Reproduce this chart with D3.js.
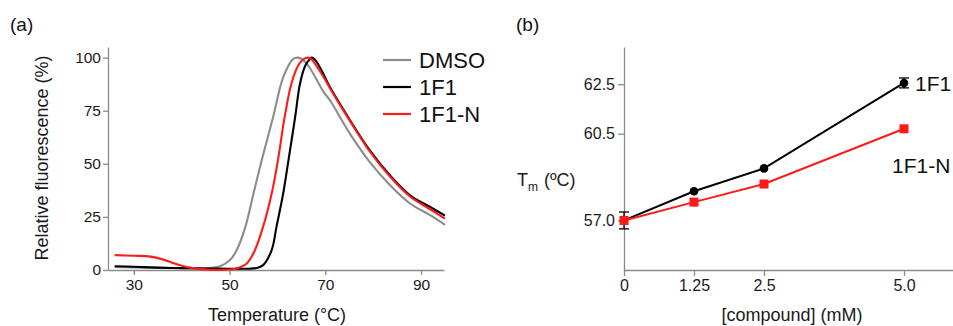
<!DOCTYPE html>
<html>
<head>
<meta charset="utf-8">
<script src="https://cdn.jsdelivr.net/npm/d3@7"></script>
<style>
  html, body { margin: 0; padding: 0; background: #fff; }
  svg { display: block; font-family: "Liberation Sans", Arial, Helvetica, sans-serif; }
  .axis path, .axis line { stroke: #8a8a8a; stroke-width: 1.3; }
  .axis text { fill: #1a1a1a; }
</style>
</head>
<body>
<svg id="chart" width="953" height="326"></svg>
<script>
// ----------------------------
// Panel (a): melting curves, [temperature °C, relative fluorescence %]
// ----------------------------
const dmsoCurve = [
  [26, 1.4], [30, 1.2], [35, 1.0], [40, 0.9], [44, 0.8], [46, 1.0], [48, 1.8],
  [50.1, 4.7], [51.5, 9.4], [53.3, 20.3], [55, 36], [56.7, 51.6], [59.1, 72],
  [61.2, 90.7], [63.3, 99.4], [64.3, 100], [65.4, 98.8], [66.8, 95], [69.6, 84],
  [71, 79.8], [75.2, 64], [79.3, 50.8], [83.5, 40], [87.7, 31.3], [91.9, 25.8], [95, 21.3]
];
const f1Curve = [
  [26, 1.8], [30, 1.5], [35, 1.1], [40, 0.9], [45, 0.7], [50, 0.6], [54, 0.6],
  [55.6, 0.9], [57, 2.3], [58.8, 9.4], [59.8, 20.3], [61.2, 36], [62.3, 51.6],
  [63.7, 72], [64.7, 87.6], [65.8, 96.2], [66.8, 99.4], [67.2, 100], [68, 98.6],
  [69.6, 92.3], [71, 86], [75.2, 70.4], [79.3, 56.3], [83.5, 44.6], [87.7, 35.2],
  [91.9, 29.7], [95, 25.6]
];
const f1nCurve = [
  [26, 7.0], [30, 6.7], [33.5, 6.3], [36, 5.0], [38, 3.4], [40, 2.0], [42, 1.0],
  [44, 0.4], [46, 0.1], [48, 0.0], [50, 0.2], [51.5, 0.8], [53.6, 3.1], [55.3, 9.4],
  [57, 20.3], [58.8, 36], [60.1, 51.6], [61.5, 72], [62.9, 87.6], [64.3, 96.2],
  [65.3, 99], [66.2, 100], [67, 99.4], [69.6, 91], [71, 85.5], [75.2, 70],
  [79.3, 55.8], [83.5, 44], [87.7, 34.6], [91.9, 28.6], [95, 24.2]
];
const seriesNames = ['DMSO', '1F1', '1F1-N'];
const seriesColors = ['#8c8c8c', '#000000', '#ff1a1a'];
const tempTicks = [30, 50, 70, 90];
const fluoTicks = [0, 25, 50, 75, 100];

// ----------------------------
// Panel (b): Tm vs compound concentration
// ----------------------------
const concentrations = [0, 1.25, 2.5, 5.0];
const concLabels = ['0', '1.25', '2.5', '5.0'];
const tm1F1 = [57.0, 58.18, 59.1, 62.55];
const tm1F1Err = [0.34, 0, 0, 0.2];
const tm1F1N = [57.0, 57.74, 58.47, 60.7];
const tmTicks = [57.0, 60.5, 62.5];

const svg = d3.select('#chart');

// ---- Panel (a)
const xA = d3.scaleLinear().domain([24.6, 94.8]).range([108, 444]);
const yA = d3.scaleLinear().domain([0, 105]).range([270, 47]);

svg.append('g')
  .attr('class', 'axis')
  .attr('transform', 'translate(0,270)')
  .call(d3.axisBottom(xA).tickValues(tempTicks).tickSize(5).tickSizeOuter(0).tickPadding(4))
  .call(g => g.selectAll('text').attr('font-size', 15.5));

svg.append('g')
  .attr('class', 'axis')
  .attr('transform', 'translate(108,0)')
  .call(d3.axisLeft(yA).tickValues(fluoTicks).tickSize(5).tickSizeOuter(0).tickPadding(2))
  .call(g => g.selectAll('text').attr('font-size', 15.5));

const lineA = d3.line()
  .x(d => xA(d[0]))
  .y(d => yA(d[1]))
  .curve(d3.curveCatmullRom.alpha(0.5));

[dmsoCurve, f1Curve, f1nCurve].forEach((data, i) => {
  svg.append('path')
    .datum(data)
    .attr('fill', 'none')
    .attr('stroke', seriesColors[i])
    .attr('stroke-width', 2.1)
    .attr('d', lineA);
});

// ---- Legend
seriesNames.forEach((name, i) => {
  const y = 60 + i * 27;
  svg.append('line')
    .attr('x1', 383).attr('x2', 411)
    .attr('y1', y).attr('y2', y)
    .attr('stroke', seriesColors[i])
    .attr('stroke-width', 2.2);
  svg.append('text')
    .attr('x', 419).attr('y', y + 8)
    .attr('font-size', 22)
    .attr('fill', '#111')
    .text(name);
});

svg.append('text')
  .attr('transform', 'translate(48,158) rotate(-90)')
  .attr('text-anchor', 'middle')
  .attr('font-size', 18)
  .attr('fill', '#1a1a1a')
  .text('Relative fluorescence (%)');

svg.append('text')
  .attr('x', 277).attr('y', 321)
  .attr('text-anchor', 'middle')
  .attr('font-size', 18)
  .attr('fill', '#1a1a1a')
  .text('Temperature (°C)');

svg.append('text')
  .attr('x', 10).attr('y', 31)
  .attr('font-size', 19)
  .attr('fill', '#111')
  .text('(a)');

// ---- Panel (b)
const xB = d3.scaleLinear().domain([0, 5.875]).range([624, 953]);
const yB = d3.scaleLinear().domain([55, 64]).range([270, 47]);

svg.append('g')
  .attr('class', 'axis')
  .attr('transform', 'translate(0,270)')
  .call(d3.axisBottom(xB).tickValues(concentrations)
    .tickFormat((d, i) => concLabels[i]).tickSize(6).tickSizeOuter(0).tickPadding(4))
  .call(g => g.selectAll('text').attr('font-size', 16));

svg.append('g')
  .attr('class', 'axis')
  .attr('transform', 'translate(624,0)')
  .call(d3.axisLeft(yB).tickValues(tmTicks).tickFormat(d3.format('.1f'))
    .tickSize(6).tickSizeOuter(0).tickPadding(3))
  .call(g => g.selectAll('text').attr('font-size', 16));

const lineB = d3.line()
  .x(d => xB(d[0]))
  .y(d => yB(d[1]));

const pts1F1 = concentrations.map((c, i) => [c, tm1F1[i], tm1F1Err[i]]);
const pts1F1N = concentrations.map((c, i) => [c, tm1F1N[i]]);

// error bars (1F1)
const errG = svg.append('g').attr('stroke', '#000').attr('stroke-width', 1.3);
pts1F1.filter(d => d[2] > 0).forEach(d => {
  const cx = xB(d[0]);
  const y1 = yB(d[1] - d[2]);
  const y2 = yB(d[1] + d[2]);
  errG.append('line').attr('x1', cx).attr('x2', cx).attr('y1', y1).attr('y2', y2);
  errG.append('line').attr('x1', cx - 5).attr('x2', cx + 5).attr('y1', y1).attr('y2', y1);
  errG.append('line').attr('x1', cx - 5).attr('x2', cx + 5).attr('y1', y2).attr('y2', y2);
});

svg.append('path')
  .datum(pts1F1)
  .attr('fill', 'none')
  .attr('stroke', '#000')
  .attr('stroke-width', 2)
  .attr('d', lineB);

svg.append('g')
  .selectAll('circle')
  .data(pts1F1)
  .join('circle')
  .attr('cx', d => xB(d[0]))
  .attr('cy', d => yB(d[1]))
  .attr('r', 4.3)
  .attr('fill', '#000');

svg.append('path')
  .datum(pts1F1N)
  .attr('fill', 'none')
  .attr('stroke', '#ff1a1a')
  .attr('stroke-width', 2)
  .attr('d', lineB);

svg.append('g')
  .selectAll('rect')
  .data(pts1F1N)
  .join('rect')
  .attr('x', d => xB(d[0]) - 4.5)
  .attr('y', d => yB(d[1]) - 4.5)
  .attr('width', 9)
  .attr('height', 9)
  .attr('fill', '#ff1a1a');

svg.append('text')
  .attr('x', 915).attr('y', 91)
  .attr('font-size', 21)
  .attr('fill', '#111')
  .text('1F1');

svg.append('text')
  .attr('x', 892).attr('y', 173)
  .attr('font-size', 21)
  .attr('fill', '#111')
  .text('1F1-N');

const tmLabel = svg.append('text')
  .attr('x', 517).attr('y', 186)
  .attr('font-size', 18)
  .attr('fill', '#1a1a1a');
tmLabel.append('tspan').text('T');
tmLabel.append('tspan').attr('dy', 5).attr('font-size', 12).text('m');
tmLabel.append('tspan').attr('dy', -5).attr('dx', 6).text('(ºC)');

svg.append('text')
  .attr('x', 792).attr('y', 321)
  .attr('text-anchor', 'middle')
  .attr('font-size', 18)
  .attr('fill', '#1a1a1a')
  .text('[compound] (mM)');

svg.append('text')
  .attr('x', 516).attr('y', 31)
  .attr('font-size', 19)
  .attr('fill', '#111')
  .text('(b)');
</script>
</body>
</html>
